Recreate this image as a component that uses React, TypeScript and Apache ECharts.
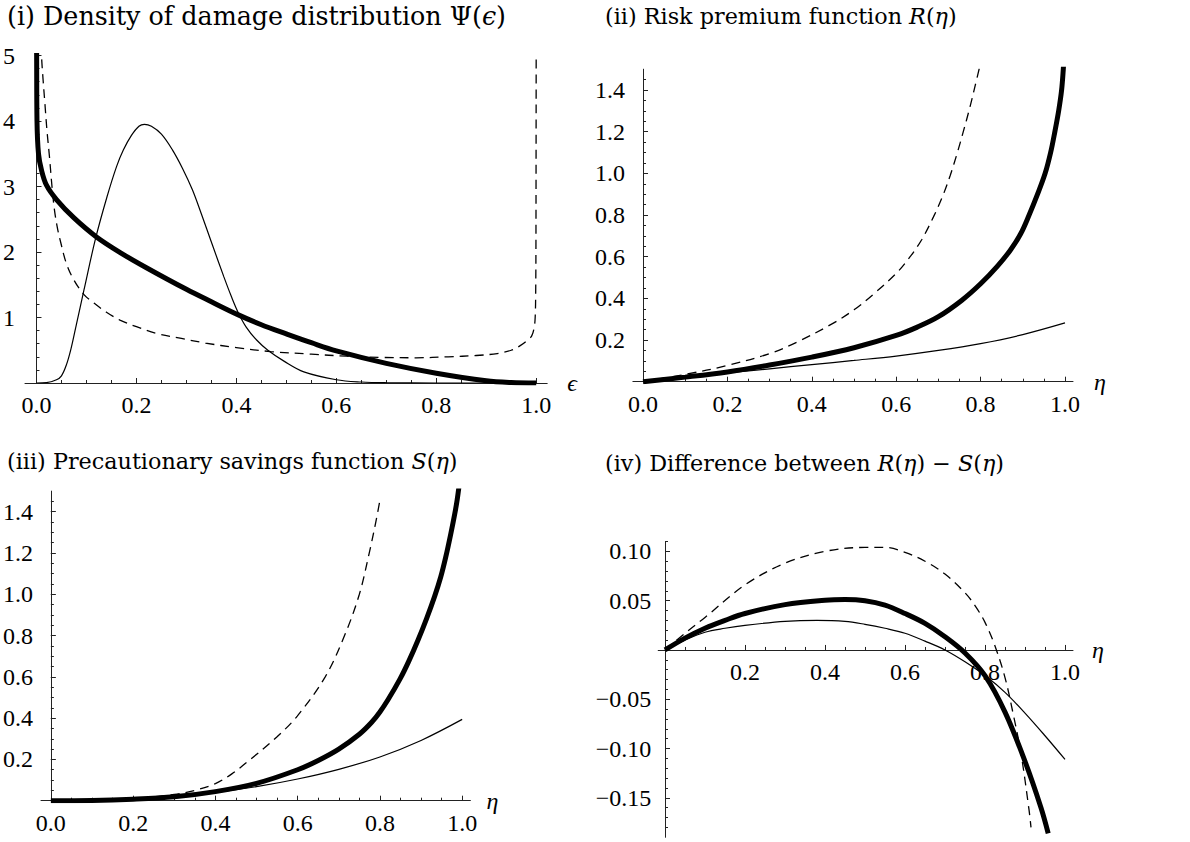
import { useEffect, useRef } from 'react';
import * as echarts from 'echarts';

const SERIF = '"Liberation Serif", "DejaVu Serif", serif';
const TITLE_FONT = '"DejaVu Serif", "Liberation Serif", serif';
const AXIS_COLOR = '#222';

// ---------- Panel (i): density of damage distribution ----------
const p1ThickX = [0, 0.0003, 0.001, 0.004, 0.01, 0.02, 0.04, 0.075, 0.12, 0.17, 0.22, 0.3, 0.35, 0.404, 0.45, 0.5, 0.55, 0.6, 0.7, 0.8, 0.9, 0.95, 1.0];
const p1ThickY = [5.6, 5.0, 4.0, 3.5, 3.25, 3.02, 2.8, 2.52, 2.23, 1.98, 1.76, 1.43, 1.24, 1.04, 0.89, 0.75, 0.615, 0.49, 0.3, 0.15, 0.035, 0.008, 0];

const p1ThinX = [0, 0.02, 0.04, 0.05, 0.06, 0.069, 0.08, 0.095, 0.118, 0.141, 0.16, 0.174, 0.19, 0.205, 0.216, 0.23, 0.25, 0.272, 0.292, 0.312, 0.33, 0.351, 0.375, 0.39, 0.404, 0.42, 0.44, 0.463, 0.496, 0.535, 0.6, 0.65, 0.7, 0.8, 0.9, 1.0];
const p1ThinY = [0, 0.005, 0.05, 0.11, 0.28, 0.52, 0.9, 1.42, 2.2, 2.84, 3.3, 3.56, 3.78, 3.92, 3.95, 3.92, 3.8, 3.56, 3.28, 2.95, 2.58, 2.13, 1.62, 1.32, 1.07, 0.85, 0.66, 0.5, 0.33, 0.17, 0.05, 0.015, 0.004, 0, 0, 0];

const p1DashX = [0.0085, 0.01, 0.013, 0.017, 0.021, 0.026, 0.031, 0.036, 0.042, 0.049, 0.06, 0.075, 0.095, 0.115, 0.14, 0.167, 0.2, 0.239, 0.29, 0.338, 0.4, 0.469, 0.55, 0.62, 0.693, 0.76, 0.824, 0.88, 0.922, 0.95, 0.968, 0.982, 0.991, 0.996, 0.998, 0.999, 0.9995, 1.0];
const p1DashY = [5.4, 5.0, 4.65, 4.25, 3.85, 3.45, 3.0, 2.64, 2.36, 2.13, 1.82, 1.57, 1.35, 1.22, 1.08, 0.96, 0.86, 0.76, 0.68, 0.61, 0.54, 0.48, 0.44, 0.41, 0.39, 0.385, 0.4, 0.42, 0.45, 0.5, 0.57, 0.65, 0.72, 0.85, 1.01, 1.4, 2.2, 5.6];

// ---------- Panel (ii): risk premium R(eta) ----------
const p2ThickX = [0, 0.1, 0.2, 0.3, 0.4, 0.5, 0.6, 0.65, 0.7, 0.755, 0.8, 0.84, 0.87, 0.895, 0.915, 0.935, 0.953, 0.966, 0.976, 0.985, 0.992, 0.996, 0.999];
const p2ThickY = [0, 0.022, 0.047, 0.08, 0.118, 0.163, 0.222, 0.262, 0.312, 0.39, 0.47, 0.555, 0.63, 0.71, 0.8, 0.9, 1.0, 1.1, 1.2, 1.3, 1.4, 1.5, 1.6];

const p2DashX = [0, 0.1, 0.2, 0.3, 0.365, 0.45, 0.5, 0.546, 0.6, 0.633, 0.66, 0.688, 0.71, 0.728, 0.745, 0.759, 0.775, 0.787, 0.8];
const p2DashY = [0, 0.035, 0.078, 0.135, 0.19, 0.28, 0.345, 0.42, 0.52, 0.6, 0.68, 0.79, 0.89, 0.99, 1.1, 1.2, 1.32, 1.42, 1.53];

const p2ThinX = [0, 0.1, 0.2, 0.3, 0.4, 0.5, 0.6, 0.7, 0.8, 0.9, 1.0];
const p2ThinY = [0, 0.021, 0.042, 0.062, 0.082, 0.102, 0.123, 0.15, 0.183, 0.226, 0.282];

// ---------- Panel (iii): precautionary savings S(eta) ----------
const p3ThickX = [0, 0.1, 0.2, 0.3, 0.4, 0.5, 0.6, 0.65, 0.7, 0.75, 0.78, 0.8, 0.82, 0.849, 0.87, 0.893, 0.913, 0.933, 0.948, 0.96, 0.972, 0.982, 0.988, 0.994];
const p3ThickY = [0, 0.001, 0.007, 0.019, 0.044, 0.084, 0.15, 0.195, 0.25, 0.322, 0.38, 0.43, 0.49, 0.59, 0.675, 0.78, 0.88, 0.99, 1.085, 1.18, 1.29, 1.39, 1.46, 1.55];

const p3DashX = [0, 0.1, 0.2, 0.3, 0.35, 0.4, 0.44, 0.485, 0.55, 0.599, 0.667, 0.714, 0.75, 0.774, 0.79, 0.8];
const p3DashY = [0, 0.002, 0.01, 0.03, 0.05, 0.083, 0.13, 0.2, 0.31, 0.41, 0.6, 0.8, 1.0, 1.2, 1.35, 1.455];

const p3ThinX = [0, 0.1, 0.2, 0.3, 0.4, 0.5, 0.6, 0.7, 0.8, 0.9, 1.0];
const p3ThinY = [0, 0.002, 0.008, 0.02, 0.04, 0.068, 0.105, 0.152, 0.212, 0.292, 0.394];

// ---------- Panel (iv): R(eta) - S(eta) ----------
const p4DashX = [0, 0.05, 0.1, 0.2, 0.3, 0.4, 0.5, 0.55, 0.6, 0.65, 0.7, 0.75, 0.775, 0.8, 0.825, 0.85, 0.87, 0.89, 0.91, 0.915];
const p4DashY = [0, 0.017, 0.033, 0.066, 0.088, 0.1, 0.104, 0.104, 0.099, 0.09, 0.077, 0.058, 0.045, 0.028, 0.004, -0.028, -0.064, -0.105, -0.162, -0.18];

const p4ThickX = [0, 0.05, 0.1, 0.15, 0.2, 0.3, 0.4, 0.45, 0.5, 0.55, 0.6, 0.65, 0.7, 0.75, 0.8, 0.85, 0.9, 0.94, 0.958];
const p4ThickY = [0, 0.012, 0.022, 0.03, 0.037, 0.046, 0.0505, 0.0512, 0.05, 0.0455, 0.037, 0.027, 0.0135, -0.003, -0.026, -0.063, -0.113, -0.16, -0.186];

const p4ThinX = [0, 0.05, 0.1, 0.15, 0.2, 0.3, 0.38, 0.45, 0.5, 0.55, 0.6, 0.65, 0.7, 0.75, 0.8, 0.85, 0.9, 0.95, 1.0];
const p4ThinY = [0, 0.01, 0.018, 0.022, 0.025, 0.029, 0.03, 0.029, 0.026, 0.022, 0.017, 0.009, 0.0, -0.012, -0.026, -0.043, -0.064, -0.087, -0.111];

// ---------- Tick labels ----------
const xLabelsWithZero = [0, 0.2, 0.4, 0.6, 0.8, 1.0];
const xLabelsNoZero = [0.2, 0.4, 0.6, 0.8, 1.0];
const p1YLabels = [1, 2, 3, 4, 5];
const p23YLabels = [0.2, 0.4, 0.6, 0.8, 1.0, 1.2, 1.4];
const p4YLabels = [-0.15, -0.1, -0.05, 0.05, 0.1];

function steps(a: number, b: number, s: number): number[] {
  const out: number[] = [];
  const n = Math.round((b - a) / s);
  for (let i = 0; i <= n; i++) out.push(Math.round((a + i * s) * 10000) / 10000);
  return out;
}

function pairs(xs: number[], ys: number[]) {
  return xs.map((x, i) => [x, ys[i]]);
}

const fmt1 = (v: number) => v.toFixed(1);
const fmtInt = (v: number) => String(Math.round(v));
const fmt2 = (v: number) => (v < 0 ? '\u2212' : '') + Math.abs(v).toFixed(2);

const LABEL_SIZE = 24;

function xAxes(grid: number, min: number, max: number, labels: number[], minors: number[], name: string, nameGap: number, offset = 0) {
  const onZero = offset === 0;
  return [
    {
      type: 'value', gridIndex: grid, min, max, position: 'bottom', offset,
      axisLine: { show: true, onZero, lineStyle: { color: AXIS_COLOR, width: 1 } },
      axisTick: { show: true, inside: true, length: 5, customValues: labels, lineStyle: { color: AXIS_COLOR, width: 1 } },
      axisLabel: { show: true, customValues: labels, formatter: fmt1, margin: 10, fontFamily: SERIF, fontSize: LABEL_SIZE, color: '#000' },
      splitLine: { show: false },
      name, nameLocation: 'end', nameGap,
      nameTextStyle: { fontFamily: SERIF, fontStyle: 'italic', fontSize: 24, color: '#000', verticalAlign: 'middle' },
    },
    {
      type: 'value', gridIndex: grid, min, max, position: 'bottom', offset,
      axisLine: { show: true, onZero, lineStyle: { color: AXIS_COLOR, width: 1, opacity: 0 } },
      axisTick: { show: true, inside: true, length: 3, customValues: minors, lineStyle: { color: AXIS_COLOR, width: 1 } },
      axisLabel: { show: false },
      splitLine: { show: false },
    },
  ];
}

function yAxes(grid: number, min: number, max: number, labels: number[], minors: number[], formatter: (v: number) => string, margin: number) {
  return [
    {
      type: 'value', gridIndex: grid, min, max, position: 'left',
      axisLine: { show: true, onZero: true, lineStyle: { color: AXIS_COLOR, width: 1 } },
      axisTick: { show: true, inside: true, length: 5, customValues: labels, lineStyle: { color: AXIS_COLOR, width: 1 } },
      axisLabel: { show: true, customValues: labels, formatter, margin, fontFamily: SERIF, fontSize: LABEL_SIZE, color: '#000' },
      splitLine: { show: false },
    },
    {
      type: 'value', gridIndex: grid, min, max, position: 'left',
      axisLine: { show: true, onZero: true, lineStyle: { color: AXIS_COLOR, width: 1, opacity: 0 } },
      axisTick: { show: true, inside: true, length: 3, customValues: minors, lineStyle: { color: AXIS_COLOR, width: 1 } },
      axisLabel: { show: false },
      splitLine: { show: false },
    },
  ];
}

type Kind = 'thick' | 'thin' | 'dash';
function line(kind: Kind, axisIdx: number, data: number[][]) {
  const ls =
    kind === 'thick'
      ? { color: '#000', width: 5 }
      : kind === 'thin'
      ? { color: '#000', width: 1.2 }
      : { color: '#000', width: 1.3, type: [9, 6] };
  return {
    type: 'line', xAxisIndex: axisIdx, yAxisIndex: axisIdx, data,
    symbol: 'none', showSymbol: false, smooth: 0.35,
    lineStyle: ls, z: kind === 'thick' ? 4 : 3, silent: true, clip: true,
  };
}

function richStyles(size: number) {
  return {
    r: { fontFamily: TITLE_FONT, fontSize: size, color: '#000', fontWeight: 'normal' },
    i: { fontFamily: TITLE_FONT, fontSize: size, color: '#000', fontStyle: 'italic', fontWeight: 'normal' },
  };
}

function title(left: number, top: number, size: number, text: string) {
  return { left, top, text, padding: 0, textStyle: { rich: richStyles(size), fontFamily: TITLE_FONT, fontSize: size, fontWeight: 'normal', color: '#000' } };
}

// grid (iv) geometry: y range [-0.19, 0.11] over 295.8 px, x axis sits at y = 0
const G4_HEIGHT = 295.8;
const G4_YMIN = -0.19;
const G4_YMAX = 0.11;
const G4_ZERO_OFFSET = -((0 - G4_YMIN) / (G4_YMAX - G4_YMIN)) * G4_HEIGHT;

export default function App() {
  const ref = useRef<HTMLDivElement>(null);
  useEffect(() => {
    if (!ref.current) return;
    const chart = echarts.init(ref.current, undefined, { renderer: 'svg' });
    const option = {
      animation: false,
      backgroundColor: '#fff',
      title: [
        title(7, 3, 25.4, '{r|(i) Density of damage distribution \u03A8(}{i|\u03F5}{r|)}'),
        title(605, 5, 22.3, '{r|(ii) Risk premium function }{i|R}{r|(}{i|\u03B7}{r|)}'),
        title(7, 450, 22.3, '{r|(iii) Precautionary savings function }{i|S}{r|(}{i|\u03B7}{r|)}'),
        title(605, 452, 22.3, '{r|(iv) Difference between }{i|R}{r|(}{i|\u03B7}{r|) \u2212 }{i|S}{r|(}{i|\u03B7}{r|)}'),
      ],
      grid: [
        { left: 16.8, top: 55.5, width: 530.4, height: 327.5, containLabel: false },
        { left: 632.9, top: 69.2, width: 440.1, height: 312.5, containLabel: false },
        { left: 31.9, top: 491.1, width: 438.5, height: 309.6, containLabel: false },
        { left: 658.2, top: 541.5, width: 414.8, height: G4_HEIGHT, containLabel: false },
      ],
      xAxis: [
        ...xAxes(0, -0.023, 1.022, xLabelsWithZero, steps(0.05, 0.95, 0.05), '\u03F5', 20),
        ...xAxes(1, -0.024, 1.019, xLabelsWithZero, steps(0.05, 0.95, 0.05), '\u03B7', 21),
        ...xAxes(2, -0.024, 1.02, xLabelsWithZero, steps(0.05, 0.95, 0.05), '\u03B7', 16),
        ...xAxes(3, -0.017, 1.02, xLabelsNoZero, steps(0.05, 0.95, 0.05), '\u03B7', 19, G4_ZERO_OFFSET),
      ],
      yAxis: [
        ...yAxes(0, 0, 5, p1YLabels, steps(0.2, 4.8, 0.2), fmtInt, 10),
        ...yAxes(1, 0, 1.5, p23YLabels, steps(0.05, 1.45, 0.05), fmt1, 8),
        ...yAxes(2, 0, 1.5, p23YLabels, steps(0.05, 1.45, 0.05), fmt1, 8),
        ...yAxes(3, G4_YMIN, G4_YMAX, p4YLabels, steps(-0.18, 0.11, 0.01), fmt2, 7),
      ],
      series: [
        line('thin', 0, pairs(p1ThinX, p1ThinY)),
        line('dash', 0, pairs(p1DashX, p1DashY)),
        line('thick', 0, pairs(p1ThickX, p1ThickY)),
        line('thin', 2, pairs(p2ThinX, p2ThinY)),
        line('dash', 2, pairs(p2DashX, p2DashY)),
        line('thick', 2, pairs(p2ThickX, p2ThickY)),
        line('thin', 4, pairs(p3ThinX, p3ThinY)),
        line('dash', 4, pairs(p3DashX, p3DashY)),
        line('thick', 4, pairs(p3ThickX, p3ThickY)),
        line('thin', 6, pairs(p4ThinX, p4ThinY)),
        line('dash', 6, pairs(p4DashX, p4DashY)),
        line('thick', 6, pairs(p4ThickX, p4ThickY)),
      ],
    };
    chart.setOption(option as any);
    return () => chart.dispose();
  }, []);
  return <div ref={ref} style={{ position: 'absolute', left: 0, top: 0, width: 1190, height: 842, background: '#fff' }} />;
}
